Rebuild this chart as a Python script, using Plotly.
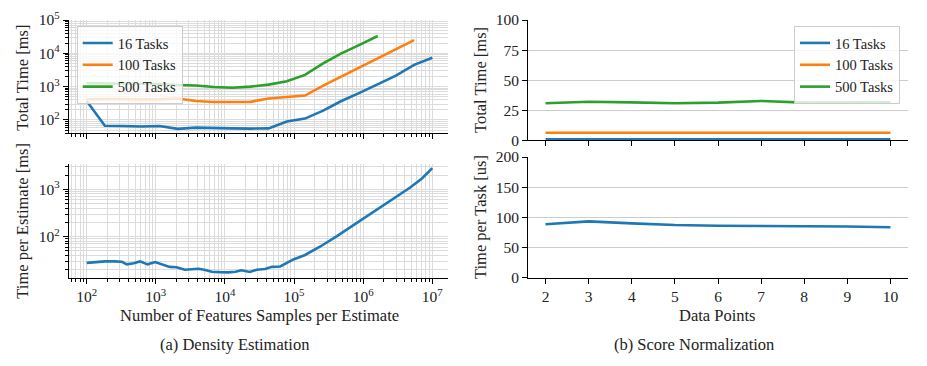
import plotly.graph_objects as go

# ---------------- data ----------------
# (a) Density Estimation - top: total time [ms]
feat_x = [100, 183, 336, 616, 1129, 2069, 3793, 6952, 12743, 23357,
          42813, 78476, 143845, 263665, 483293, 885867, 1623777, 2976351,
          5455595, 10000000]
total_16 = [370, 67, 66, 64, 66, 54, 59, 59, 56, 55,
            56, 90, 110, 190, 370, 650, 1200, 2150, 4500, 7400]
total_100 = [420, 430, 420, 415, 415, 440, 370, 345, 340, 350,
             440, 490, 540, 1070, 2000, 3700, 7000, 13000, 25000]
total_500 = [1260, 1250, 1240, 1220, 1200, 1120, 1080, 980, 930, 1000,
             1150, 1450, 2250, 5000, 10000, 18000, 33000]

# (a) bottom: time per estimate [ms] (16 tasks)
est_x = [100, 135, 184, 251, 324, 380, 479, 589, 759, 977, 1259, 1585,
         1995, 2630, 3311, 4121, 5012, 6457, 8511, 11220, 14125, 17378,
         22909, 28840, 38019, 47863, 63096, 79433, 97724, 144544, 239883,
         416869, 891251, 1412538, 2187762, 3162278, 4786301, 7079458,
         10000000]
est_y = [28, 29, 30, 30, 29.5, 26, 27.5, 30, 26, 29, 26, 23,
         22.5, 20, 20.5, 21, 20, 18.2, 17.8, 17.6, 18.2, 19.5,
         18, 20, 20.7, 23, 23.5, 28, 33, 41, 62,
         103, 217, 340, 505, 720, 1090, 1700, 2800]

# (b) Score Normalization
data_points = [2, 3, 4, 5, 6, 7, 8, 9, 10]
norm_16 = [0.9, 0.9, 0.9, 0.9, 0.9, 0.9, 0.9, 0.9, 0.9]
norm_100 = [6.3, 6.3, 6.3, 6.3, 6.3, 6.3, 6.3, 6.3, 6.3]
norm_500 = [30.8, 32.1, 31.5, 30.8, 31.3, 32.7, 31.3, 31.3, 31.5]
per_task = [88.5, 93.4, 90, 87.3, 86.2, 86, 85.4, 84.8, 83.5]

series_names = ["16 Tasks", "100 Tasks", "500 Tasks"]
colors = ["#1f77b4", "#ff7f0e", "#2ca02c"]

log_ticks_x = [100, 1000, 10000, 100000, 1000000, 10000000]
log_text_x = ["10<sup>2</sup>", "10<sup>3</sup>", "10<sup>4</sup>",
              "10<sup>5</sup>", "10<sup>6</sup>", "10<sup>7</sup>"]
top_ticks_y = [100, 1000, 10000, 100000]
top_text_y = ["10<sup>2</sup>", "10<sup>3</sup>", "10<sup>4</sup>", "10<sup>5</sup>"]
bot_ticks_y = [100, 1000]
bot_text_y = ["10<sup>2</sup>", "10<sup>3</sup>"]

# ---------------- figure ----------------
FONT = "Liberation Serif"
FS_TICK = 15.5
FS_TITLE = 16.5
FS_LEG = 14.5
W, H = 927, 366
OFF = 8  # page body margin offset
TXT = "#222222"

def px(v):
    return (v - OFF) / W

def py(v):
    return 1 - (v - OFF) / H

fig = go.Figure()
LW = 2.6

for name, ys, c in zip(series_names, [total_16, total_100, total_500], colors):
    fig.add_trace(go.Scatter(x=feat_x[:len(ys)], y=ys, mode="lines", name=name,
                             line=dict(color=c, width=LW), xaxis="x", yaxis="y",
                             legend="legend"))
fig.add_trace(go.Scatter(x=est_x, y=est_y, mode="lines", showlegend=False,
                         line=dict(color=colors[0], width=LW), xaxis="x2", yaxis="y2"))
for name, ys, c in zip(series_names, [norm_16, norm_100, norm_500], colors):
    fig.add_trace(go.Scatter(x=data_points, y=ys, mode="lines", name=name,
                             line=dict(color=c, width=LW), xaxis="x3", yaxis="y3",
                             legend="legend2"))
fig.add_trace(go.Scatter(x=data_points, y=per_task, mode="lines", showlegend=False,
                         line=dict(color=colors[0], width=LW), xaxis="x4", yaxis="y4"))

GRID = "#dcdcdc"
common = dict(showline=True, linecolor="black", linewidth=1.3, ticks="outside",
              ticklen=5, tickwidth=1.2, tickcolor="black", zeroline=False,
              mirror=False, automargin=False,
              tickfont=dict(family=FONT, size=FS_TICK, color=TXT))

log_minor = dict(dtick="D1", ticks="outside", ticklen=3, tickwidth=1, tickcolor="black",
                 showgrid=True, gridcolor=GRID, gridwidth=1)

LX = [px(69), px(448)]
RX = [px(528.3), px(907.7)]

def ann(text, x, y, angle=0, size=FS_TITLE):
    return dict(text=text, x=px(x), y=py(y), xref="paper", yref="paper",
                showarrow=False, textangle=angle, xanchor="center", yanchor="middle",
                font=dict(family=FONT, size=size, color=TXT))

leg_common = dict(yanchor="top", bgcolor="rgba(255,255,255,0.8)", bordercolor="#cccccc",
                  borderwidth=1, font=dict(family=FONT, size=FS_LEG, color=TXT),
                  tracegroupgap=0, itemwidth=30)

fig.update_layout(
    width=W, height=H, margin=dict(l=0, r=0, t=0, b=0),
    plot_bgcolor="white", paper_bgcolor="white",
    font=dict(family=FONT, size=FS_TITLE, color=TXT),
    xaxis=dict(domain=LX, anchor="y", type="log", range=[1.744, 7.227],
               tickvals=log_ticks_x, ticktext=["" for _ in log_ticks_x],
               showgrid=True, gridcolor=GRID, minor=log_minor, **common),
    yaxis=dict(domain=[py(133.3), py(20)], anchor="x", type="log", range=[1.6, 5.0],
               tickvals=top_ticks_y, ticktext=top_text_y,
               showgrid=True, gridcolor=GRID, minor=log_minor, **common),
    xaxis2=dict(domain=LX, anchor="y2", type="log", range=[1.744, 7.227],
                tickvals=log_ticks_x, ticktext=log_text_x,
                showgrid=True, gridcolor=GRID, minor=log_minor, **common),
    yaxis2=dict(domain=[py(277.7), py(164)], anchor="x2", type="log", range=[1.133, 3.535],
                tickvals=bot_ticks_y, ticktext=bot_text_y,
                showgrid=True, gridcolor=GRID, minor=log_minor, **common),
    xaxis3=dict(domain=RX, anchor="y3", range=[1.6, 10.4], tickvals=data_points,
                ticktext=["" for _ in data_points], showgrid=False, **common),
    yaxis3=dict(domain=[py(140.3), py(20)], anchor="x3", range=[0, 100],
                tickvals=[0, 25, 50, 75, 100], showgrid=True, gridcolor="#cccccc", **common),
    xaxis4=dict(domain=RX, anchor="y4", range=[1.6, 10.4], tickvals=data_points,
                showgrid=False, **common),
    yaxis4=dict(domain=[py(277.7), py(157)], anchor="x4", range=[0, 200],
                tickvals=[0, 50, 100, 150, 200], showgrid=True, gridcolor="#cccccc", **common),
    legend=dict(x=px(76.7), y=py(26), xanchor="left", **leg_common),
    legend2=dict(x=px(900), y=py(26), xanchor="right", **leg_common),
    annotations=[
        ann("Total Time [ms]", 21.7, 78, -90),
        ann("Time per Estimate [ms]", 21.7, 221, -90),
        ann("Total Time [ms]", 480, 80, -90),
        ann("Time per Task [us]", 480, 217, -90),
        ann("Number of Features Samples per Estimate", 259, 315),
        ann("Data Points", 717.5, 315),
        ann("(a) Density Estimation", 234.5, 344, size=16.5),
        ann("(b) Score Normalization", 693.5, 344, size=16.5),
    ],
)

fig.write_html("out.html")
